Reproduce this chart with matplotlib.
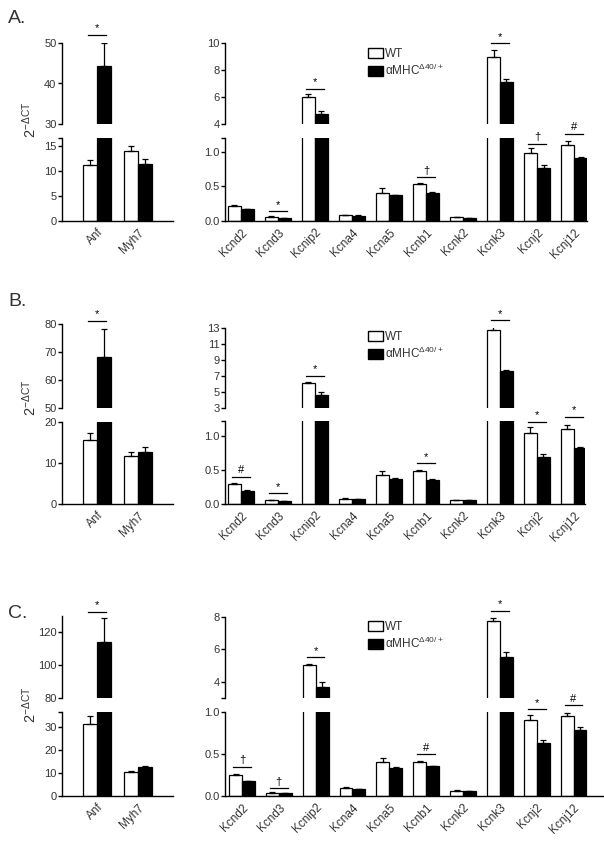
import matplotlib
matplotlib.use('Agg')
import matplotlib.pyplot as plt
from matplotlib.patches import Patch

plt.rcParams['font.family'] = ['Liberation Sans', 'DejaVu Sans']
plt.rcParams['mathtext.default'] = 'regular'

# Gene names
genes_left = ['Anf', 'Myh7']
genes_right = ['Kcnd2', 'Kcnd3', 'Kcnip2', 'Kcna4', 'Kcna5',
               'Kcnb1', 'Kcnk2', 'Kcnk3', 'Kcnj2', 'Kcnj12']

# Panel A values (mean, SEM)
a_left_wt = [11.2, 14.0]
a_left_wt_err = [0.9, 0.9]
a_left_ko = [44.3, 11.4]
a_left_ko_err = [5.6, 1.0]
a_right_wt = [0.22, 0.063, 6.03, 0.08, 0.40, 0.53, 0.06, 8.96, 0.985, 1.10]
a_right_wt_err = [0.015, 0.01, 0.2, 0.005, 0.07, 0.02, 0.005, 0.49, 0.065, 0.06]
a_right_ko = [0.175, 0.04, 4.74, 0.07, 0.37, 0.41, 0.04, 7.10, 0.76, 0.91]
a_right_ko_err = [0.005, 0.005, 0.23, 0.01, 0.01, 0.015, 0.003, 0.25, 0.05, 0.015]
a_sig_left = [(0, 52, '*')]
a_sig_right = [(1, 0.14, '*'), (2, 6.6, '*'), (5, 0.63, '†'), (7, 10.0, '*'),
               (8, 1.12, '†'), (9, 1.26, '#')]

# Panel B values
b_left_wt = [15.6, 11.8]
b_left_wt_err = [1.6, 0.9]
b_left_ko = [68.1, 12.6]
b_left_ko_err = [10.2, 1.2]
b_right_wt = [0.296, 0.06, 6.15, 0.08, 0.43, 0.485, 0.06, 12.7, 1.05, 1.10]
b_right_wt_err = [0.015, 0.005, 0.1, 0.005, 0.05, 0.015, 0.005, 0.6, 0.08, 0.055]
b_right_ko = [0.19, 0.04, 4.6, 0.07, 0.37, 0.36, 0.06, 7.66, 0.69, 0.83]
b_right_ko_err = [0.01, 0.005, 0.4, 0.01, 0.01, 0.005, 0.003, 0.05, 0.05, 0.015]
b_sig_left = [(0, 81.2, '*')]
b_sig_right = [(0, 0.40, '#'), (1, 0.16, '*'), (2, 7.03, '*'), (5, 0.6, '*'),
               (7, 13.96, '*'), (8, 1.21, '*'), (9, 1.28, '*')]

# Panel C values
c_left_wt = [31.5, 10.6]
c_left_wt_err = [3.3, 0.4]
c_left_ko = [114.3, 12.5]
c_left_ko_err = [14.2, 0.7]
c_right_wt = [0.248, 0.04, 5.02, 0.096, 0.40, 0.40, 0.06, 7.73, 0.91, 0.95]
c_right_wt_err = [0.012, 0.005, 0.05, 0.014, 0.056, 0.015, 0.01, 0.22, 0.05, 0.04]
c_right_ko = [0.176, 0.035, 3.69, 0.08, 0.336, 0.356, 0.06, 5.53, 0.63, 0.78]
c_right_ko_err = [0.005, 0.005, 0.31, 0.005, 0.005, 0.005, 0.005, 0.31, 0.04, 0.04]
c_sig_left = [(0, 132.5, '*')]
c_sig_right = [(0, 0.35, '†'), (1, 0.09, '†'), (2, 5.5, '*'), (5, 0.5, '#'),
               (7, 8.39, '*'), (8, 1.03, '*'), (9, 1.08, '#')]

W, H = 604, 846
TXT = '#333333'
fig = plt.figure(figsize=(W / 100, H / 100), dpi=100)


def px_axes(x0, x1, ytop, ybot):
    ax = fig.add_axes([x0 / W, 1 - ybot / H, (x1 - x0) / W, (ybot - ytop) / H])
    ax.set_facecolor('none')
    return ax


def style(ax, ticks, labels, bottom):
    for s in ['top', 'right']:
        ax.spines[s].set_visible(False)
    ax.spines['left'].set_linewidth(1.0)
    ax.set_yticks(ticks)
    ax.set_yticklabels(labels)
    ax.tick_params(axis='y', length=3, width=1.0, labelsize=8, labelcolor=TXT, pad=1)
    if bottom:
        ax.spines['bottom'].set_linewidth(1.0)
    else:
        ax.spines['bottom'].set_visible(False)
        ax.set_xticks([])


def draw_bars(ax, wt, wt_err, ko, ko_err, width):
    x = list(range(len(wt)))
    xw = [i - width / 2 for i in x]
    xk = [i + width / 2 for i in x]
    ax.bar(xw, wt, width, color='white', edgecolor='black', linewidth=0.9, zorder=2)
    ax.bar(xk, ko, width, color='black', edgecolor='black', linewidth=0.9, zorder=2)
    ax.errorbar(xw, wt, yerr=[[0] * len(wt), wt_err], fmt='none', ecolor='black',
                elinewidth=0.9, capsize=2.3, capthick=0.9, zorder=3)
    ax.errorbar(xk, ko, yerr=[[0] * len(ko), ko_err], fmt='none', ecolor='black',
                elinewidth=0.9, capsize=2.3, capthick=0.9, zorder=3)


def draw_sig(ax_lo, ax_hi, sig, half, gap):
    for i, y, mark in sig:
        ax = ax_hi if y >= ax_hi.get_ylim()[0] else ax_lo
        ax.plot([i - half, i + half], [y, y], color='black', lw=0.9, clip_on=False)
        ax.annotate(mark, (i, y), xytext=(0, gap), textcoords='offset points',
                    ha='center', va='bottom', fontsize=8, color='black',
                    annotation_clip=False)


def panel(label, geo_l, geo_r, lims_l, lims_r, ticks_l, ticks_r, data_l, data_r,
          sig_l, sig_r, xlim_r, ylab_y, leg_xy):
    # left pair
    lo = px_axes(*geo_l[0])
    hi = px_axes(*geo_l[1])
    for ax in (lo, hi):
        draw_bars(ax, *data_l, 0.34)
        ax.set_xlim(-0.85, 1.85)
    lo.set_ylim(*lims_l[0])
    hi.set_ylim(*lims_l[1])
    style(lo, *ticks_l[0], True)
    style(hi, *ticks_l[1], False)
    lo.set_xticks(range(len(genes_left)))
    lo.set_xticklabels(genes_left, rotation=45, ha='right', rotation_mode='anchor',
                       fontsize=8.5, color=TXT)
    lo.tick_params(axis='x', length=0, pad=4)
    draw_sig(lo, hi, sig_l, 0.21, 1.0)

    # right pair
    lo2 = px_axes(*geo_r[0])
    hi2 = px_axes(*geo_r[1])
    for ax in (lo2, hi2):
        draw_bars(ax, *data_r, 0.35)
        ax.set_xlim(*xlim_r)
    lo2.set_ylim(*lims_r[0])
    hi2.set_ylim(*lims_r[1])
    style(lo2, *ticks_r[0], True)
    style(hi2, *ticks_r[1], False)
    lo2.set_xticks(range(len(genes_right)))
    lo2.set_xticklabels(genes_right, rotation=45, ha='right', rotation_mode='anchor',
                        fontsize=8.5, color=TXT)
    lo2.tick_params(axis='x', length=0, pad=4)
    draw_sig(lo2, hi2, sig_r, 0.24, 1.0)

    handles = [Patch(facecolor='white', edgecolor='black', lw=1.0, label='WT'),
               Patch(facecolor='black', edgecolor='black', label=r'αMHC$^{Δ40/+}$')]
    hi2.legend(handles=handles, loc='upper left', frameon=False, fontsize=8.5,
               handlelength=1.3, handleheight=0.9, handletextpad=0.2, labelspacing=0.25,
               borderaxespad=0, labelcolor=TXT,
               bbox_to_anchor=(leg_xy[0] / W, 1 - leg_xy[1] / H),
               bbox_transform=fig.transFigure)

    fig.text(30 / W, 1 - ylab_y / H, r'2$^{-ΔCT}$', rotation=90, ha='center',
             va='center', fontsize=10.5, color=TXT)
    fig.text(8 / W, 1 - label[1] / H, label[0], fontsize=14, color=TXT, va='top')


panel(('A.', 10),
      [(62, 173, 138, 221), (62, 173, 43, 124)],
      [(225, 587, 138, 221), (225, 587, 43, 124)],
      [(0, 16.6), (30, 50)], [(0, 1.2), (4, 10)],
      [([0, 5, 10, 15, 16.6], ['0', '5', '10', '15', '']), ([30, 40, 50], ['30', '40', '50'])],
      [([0, 0.5, 1.0, 1.2], ['0.0', '0.5', '1.0', '']), ([4, 6, 8, 10], ['4', '6', '8', '10'])],
      (a_left_wt, a_left_wt_err, a_left_ko, a_left_ko_err),
      (a_right_wt, a_right_wt_err, a_right_ko, a_right_ko_err),
      a_sig_left, a_sig_right, (-0.43, 9.35), 120, (363, 43))

panel(('B.', 293),
      [(62, 173, 422, 504), (62, 173, 324, 408)],
      [(225, 585, 421, 504), (225, 585, 328, 408)],
      [(0, 20), (50, 80)], [(0, 1.22), (3, 13)],
      [([0, 10, 20], ['0', '10', '20']), ([50, 60, 70, 80], ['50', '60', '70', '80'])],
      [([0, 0.5, 1.0, 1.22], ['0.0', '0.5', '1.0', '']),
       ([3, 5, 7, 9, 11, 13], ['3', '5', '7', '9', '11', '13'])],
      (b_left_wt, b_left_wt_err, b_left_ko, b_left_ko_err),
      (b_right_wt, b_right_wt_err, b_right_ko, b_right_ko_err),
      b_sig_left, b_sig_right, (-0.43, 9.3), 398, (363, 326))

panel(('C.', 605),
      [(62, 173, 712, 796), (62, 173, 616, 698)],
      [(225, 603, 712, 796), (225, 603, 617, 698)],
      [(0, 36.7), (80, 130)], [(0, 1.0), (3, 8)],
      [([0, 10, 20, 30, 36.7], ['0', '10', '20', '30', '']),
       ([80, 100, 120], ['80', '100', '120'])],
      [([0, 0.5, 1.0], ['0.0', '0.5', '1.0']), ([3, 4, 6, 8], ['', '4', '6', '8'])],
      (c_left_wt, c_left_wt_err, c_left_ko, c_left_ko_err),
      (c_right_wt, c_right_wt_err, c_right_ko, c_right_ko_err),
      c_sig_left, c_sig_right, (-0.46, 9.8), 705, (363, 616))

fig.savefig('out.png', dpi=100)
